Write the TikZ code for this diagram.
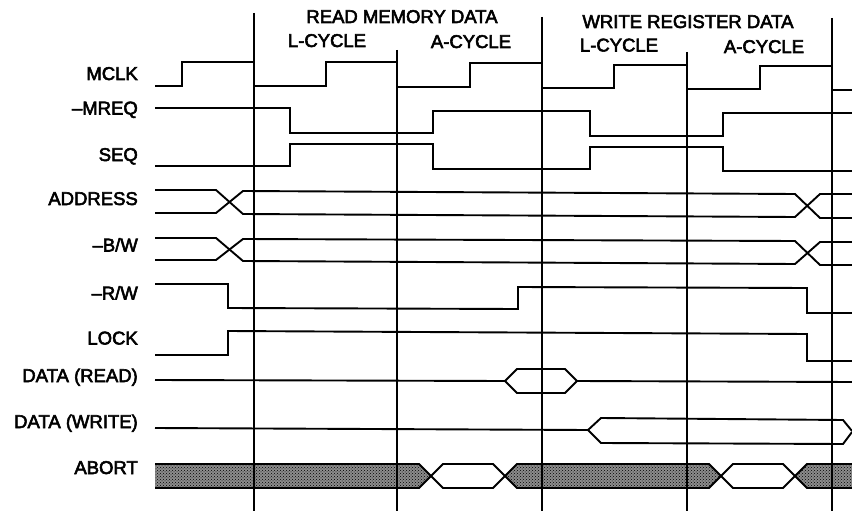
\documentclass[tikz,border=0pt]{standalone}
\usepackage{fontspec}
\setmainfont{Liberation Sans}
\newfontfamily\lblfont{Liberation Sans}[FakeBold=3]
\usetikzlibrary{patterns}
\begin{document}
\begin{tikzpicture}[x=1pt,y=-1pt,
  sig/.style={line width=1.9pt, line join=miter},
  gridline/.style={line width=2.1pt},
  lbl/.style={anchor=base east, inner sep=0pt, font=\lblfont\fontsize{18.5}{20}\selectfont},
  hdr/.style={anchor=base, inner sep=0pt, font=\lblfont\fontsize{18.5}{20}\selectfont},
  hatchfill/.style={preaction={fill=black!45}, pattern=crosshatch dots, pattern color=black}]
\useasboundingbox (0,0) rectangle (852,511);
\fill[white] (0,0) rectangle (852,511);

% headers
\node[hdr] (rmd) at (402,23) {READ MEMORY DATA};
\node[hdr] (lc1) at (327,47) {L-CYCLE};
\node[hdr] (ac1) at (471,48) {A-CYCLE};
\node[hdr] (wrd) at (688,28) {WRITE REGISTER DATA};
\node[hdr] (lc2) at (619,51.5) {L-CYCLE};
\node[hdr] (ac2) at (764,53) {A-CYCLE};

% labels
\node[lbl] (lmclk) at (138,80) {MCLK};
\node[lbl] (lmreq) at (138,114.5) {–MREQ};
\node[lbl] (lseq) at (138,161) {SEQ};
\node[lbl] (laddr) at (138,205) {ADDRESS};
\node[lbl] (lbw) at (138,251.5) {–B/W};
\node[lbl] (lrw) at (138,299.5) {–R/W};
\node[lbl] (llock) at (138,344.5) {LOCK};
\node[lbl] (ldr) at (138,382) {DATA (READ)};
\node[lbl] (ldw) at (138,428) {DATA (WRITE)};
\node[lbl] (labort) at (138,474) {ABORT};

% MCLK
\draw[sig] (155,86)--(182,86)--(182,62)--(254,62)--(254,86)--(326,86)--(326,62)--(397,62)--(397,87)--(470,87)--(470,63)--(542,63)--(542,88)--(614,88)--(614,65)--(687,65)--(687,89)--(760,89)--(760,66)--(832,66)--(832,90)--(852,90);
% -MREQ
\draw[sig] (155,108)--(290,108)--(290,133)--(433,133)--(433,111)--(590,111)--(590,136)--(723,136)--(723,113)--(852,113);
% SEQ
\draw[sig] (155,166)--(290,166)--(290,144)--(433,144)--(433,169)--(590,169)--(590,147)--(723,147)--(723,171)--(852,171);
% ADDRESS
\draw[sig] (155,190)--(216,190)--(243,214)--(795,217)--(820,194)--(852,194);
\draw[sig] (155,213)--(216,213)--(243,191)--(795,194)--(820,218)--(852,218);
% -B/W
\draw[sig] (155,238)--(216,238)--(243,261)--(795,264)--(820,242)--(852,242);
\draw[sig] (155,260)--(216,260)--(243,239)--(795,241)--(820,265)--(852,265);
% -R/W
\draw[sig] (155,284)--(228,284)--(228,308)--(518,309)--(518,287)--(807,288)--(807,313)--(852,313);
% LOCK
\draw[sig] (155,355)--(228,355)--(228,331)--(807,334)--(807,361)--(852,361);
% DATA (READ)
\draw[sig] (155,380)--(505,381)--(517,369)--(565,369)--(577,381)--(852,382);
\draw[sig] (505,381)--(517,393)--(565,393)--(577,381);
% DATA (WRITE)
\draw[sig] (155,428)--(588,430)--(601,418)--(843,420)--(852,431);
\draw[sig] (588,430)--(601,443)--(843,444)--(852,432);

% ABORT
\fill[hatchfill] (155,464)--(419,464)--(431,476)--(419,488)--(155,488)--cycle;
\draw[sig] (155,464)--(419,464)--(431,476)--(419,488)--(155,488);
\draw[sig] (431,476)--(443,464)--(493,464)--(505,476)--(493,488)--(443,488)--cycle;
\fill[hatchfill] (505,476)--(517,464)--(709,464)--(721,476)--(709,488)--(517,488)--cycle;
\draw[sig] (505,476)--(517,464)--(709,464)--(721,476)--(709,488)--(517,488)--cycle;
\draw[sig] (721,476)--(733,464)--(783,464)--(795,476)--(783,488)--(733,488)--cycle;
\fill[hatchfill] (795,476)--(807,464)--(852,464)--(852,488)--(807,488)--cycle;
\draw[sig] (852,464)--(807,464)--(795,476)--(807,488)--(852,488);

% cycle boundaries
\draw[gridline] (254,13)--(254,511);
\draw[gridline] (397,50)--(397,511);
\draw[gridline] (542,17)--(542,511);
\draw[gridline] (687,52)--(687,511);
\draw[gridline] (832,18)--(832,511);
\end{tikzpicture}
\end{document}
